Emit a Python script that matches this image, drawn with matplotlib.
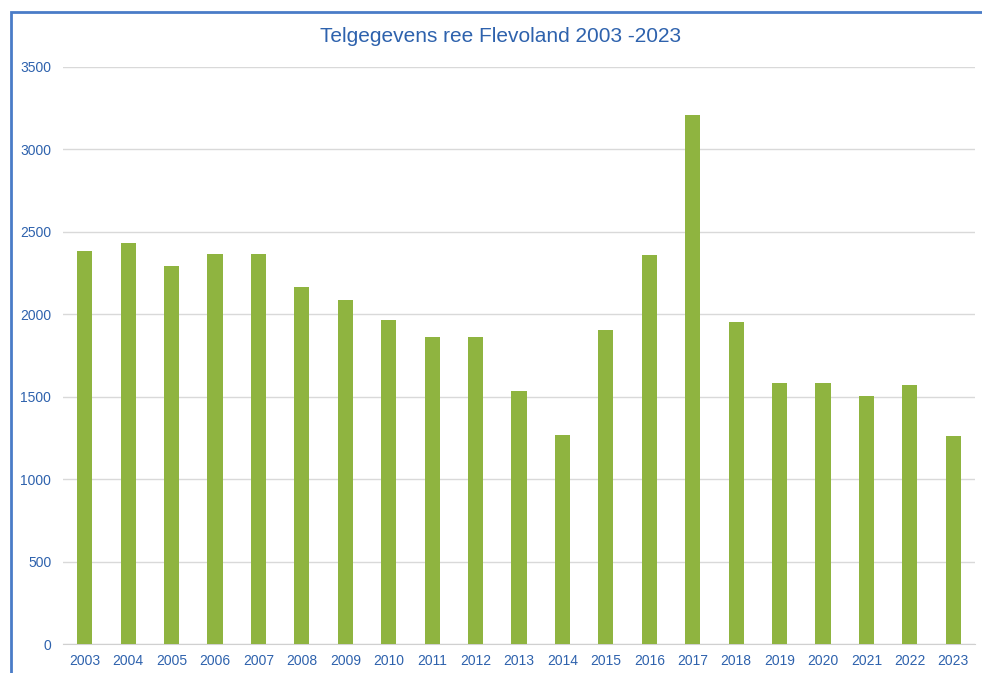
import numpy as np
import matplotlib.pyplot as plt
from matplotlib.patches import Rectangle

plt.rcParams['font.family'] = ['Liberation Sans', 'DejaVu Sans']

years = [str(y) for y in range(2003, 2024)]
counts = [2382, 2430, 2295, 2364, 2368, 2166, 2087, 1967, 1862, 1862,
          1535, 1268, 1905, 2360, 3209, 1951, 1583, 1583, 1504, 1569, 1260]

W, H = 982, 673
fig = plt.figure(figsize=(W / 100, H / 100), dpi=100)
ax = fig.add_axes([63 / W, (H - 644) / H, (975 - 63) / W, (644 - 67) / H])

blue = '#2e62ad'
x = np.arange(len(years))
ax.bar(x, counts, width=0.35, color='#8fb440', zorder=3)

ax.set_xlim(-0.5, len(years) - 0.5)
ax.set_ylim(0, 3500)
ax.set_yticks(np.arange(0, 3501, 500))
ax.set_xticks(x)
ax.set_xticklabels(years)
ax.grid(axis='y', color='#d9d9d9', lw=1.0, zorder=0)
for s in ['top', 'right', 'left']:
    ax.spines[s].set_visible(False)
ax.spines['bottom'].set_color('#d0d0d0')
ax.tick_params(axis='both', length=0, labelsize=10, labelcolor=blue)
ax.tick_params(axis='y', pad=8.5)
ax.tick_params(axis='x', pad=7)

fig.text(501 / W, 1 - 37 / H, 'Telgegevens ree Flevoland 2003 -2023',
         ha='center', va='center', fontsize=15, color=blue)

# outer chart frame, cut off at right and bottom
fig.patches.append(Rectangle((10.5 / W, -0.1), 1.2, (H - 12) / H + 0.1,
                             transform=fig.transFigure, fill=False,
                             edgecolor='#4a7cc7', lw=2.0))

fig.savefig('out.png', dpi=100)
